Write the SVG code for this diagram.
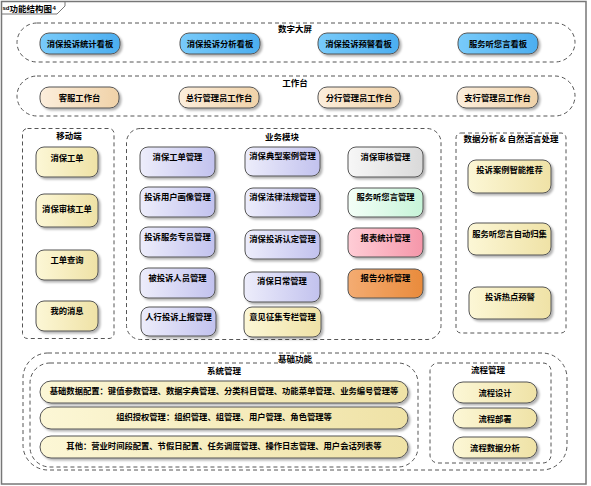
<svg xmlns="http://www.w3.org/2000/svg" width="591" height="486" viewBox="0 0 591 486">
<defs>
<linearGradient id="gBlue" x1="0" y1="0" x2="1" y2="0"><stop offset="0" stop-color="#78CBFA"/><stop offset="1" stop-color="#4CAEF0"/></linearGradient>
<linearGradient id="gPeach" x1="0" y1="0" x2="1" y2="0"><stop offset="0" stop-color="#FCEEDC"/><stop offset="1" stop-color="#F0D2A8"/></linearGradient>
<linearGradient id="gYellow" x1="0" y1="0" x2="1" y2="0"><stop offset="0" stop-color="#FCF7D6"/><stop offset="1" stop-color="#EFE2A6"/></linearGradient>
<linearGradient id="gLav" x1="0" y1="0" x2="1" y2="0"><stop offset="0" stop-color="#EDEDFB"/><stop offset="1" stop-color="#C2C2EE"/></linearGradient>
<linearGradient id="gGray" x1="0" y1="0" x2="1" y2="0"><stop offset="0" stop-color="#F7F7F7"/><stop offset="1" stop-color="#D9D9D9"/></linearGradient>
<linearGradient id="gMint" x1="0" y1="0" x2="1" y2="0"><stop offset="0" stop-color="#F4FFF8"/><stop offset="1" stop-color="#C6F4D8"/></linearGradient>
<linearGradient id="gPink" x1="0" y1="0" x2="1" y2="0"><stop offset="0" stop-color="#FFCDD6"/><stop offset="1" stop-color="#F597AA"/></linearGradient>
<linearGradient id="gOrange" x1="0" y1="0" x2="1" y2="0"><stop offset="0" stop-color="#F4AC72"/><stop offset="1" stop-color="#E98B3C"/></linearGradient>
<filter id="sh" x="-10%" y="-20%" width="130%" height="150%"><feDropShadow dx="2" dy="2" stdDeviation="1.2" flood-color="#000" flood-opacity="0.3"/></filter>
</defs>
<style>
text{font-family:"Noto Sans CJK SC","Noto Sans",sans-serif;font-weight:bold;font-size:8.3px;fill:#000;text-anchor:middle;dominant-baseline:central}
.node{stroke:#555;stroke-width:1;filter:url(#sh)}
.cont{fill:none;stroke:#555;stroke-width:1;stroke-dasharray:4 3}
.lbl{font-size:8.5px}
.blue{fill:url(#gBlue)}.peach{fill:url(#gPeach)}.yellow{fill:url(#gYellow)}.lav{fill:url(#gLav)}
.gray{fill:url(#gGray)}.mint{fill:url(#gMint)}.pink{fill:url(#gPink)}.orange{fill:url(#gOrange)}
.small{text-anchor:start;font-size:6px;font-family:"Liberation Sans",sans-serif}
</style>
<rect x="0" y="0" width="591" height="486" fill="#fff"/>
<g id="frame">
<rect x="1.5" y="1.5" width="584.5" height="482.5" fill="#fff" stroke="#777" stroke-width="1.5"/>
<path d="M1.5 14 L57 14 L65 6 L65 1.5" fill="none" stroke="#777" stroke-width="1"/>
<text class="small" x="2.5" y="8">sd</text>
<text x="9.5" y="7.5" style="text-anchor:start;font-size:8.5px">功能结构图</text>
<text class="small" x="52.5" y="8">4</text>
</g>

<g id="containers">
<rect id="c-screen" class="cont" x="17" y="23" width="558" height="39" rx="20" ry="20"/>
<text class="lbl" x="295" y="28">数字大屏</text>
<rect id="c-work" class="cont" x="17" y="76" width="558" height="40" rx="20" ry="20"/>
<text class="lbl" x="295" y="82">工作台</text>
<rect id="c-mobile" class="cont" x="22.5" y="128.5" width="91.5" height="210" rx="5"/>
<text class="lbl" x="69" y="135">移动端</text>
<rect id="c-biz" class="cont" x="126.5" y="128.5" width="314.5" height="211" rx="14"/>
<text class="lbl" x="282" y="136">业务模块</text>
<rect id="c-nlp" class="cont" x="456" y="133" width="110" height="200" rx="5"/>
<text class="lbl" x="511" y="138">数据分析 &amp; 自然语言处理</text>
<rect id="c-base" class="cont" x="23" y="353" width="544" height="117" rx="25"/>
<text class="lbl" x="295" y="357.5">基础功能</text>
<rect id="c-sys" class="cont" x="30" y="363" width="388" height="104" rx="20"/>
<text class="lbl" x="224" y="370">系统管理</text>
<rect id="c-flow" class="cont" x="430" y="363" width="121" height="100" rx="8"/>
<text class="lbl" x="488" y="369">流程管理</text>
</g>

<g id="n-s1"><rect class="node blue" x="40" y="33" width="80" height="21" rx="9"/><text x="80" y="43">消保投诉统计看板</text></g>
<g id="n-s2"><rect class="node blue" x="180" y="33" width="80" height="21" rx="9"/><text x="220" y="43">消保投诉分析看板</text></g>
<g id="n-s3"><rect class="node blue" x="318" y="33" width="81" height="21" rx="9"/><text x="358.5" y="43">消保投诉预警看板</text></g>
<g id="n-s4"><rect class="node blue" x="458" y="33" width="80" height="21" rx="9"/><text x="498" y="43">服务听您言看板</text></g>

<g id="n-w1"><rect class="node peach" x="40" y="87" width="79" height="21" rx="9"/><text x="79.5" y="97">客服工作台</text></g>
<g id="n-w2"><rect class="node peach" x="179" y="87" width="80" height="21" rx="9"/><text x="219" y="97">总行管理员工作台</text></g>
<g id="n-w3"><rect class="node peach" x="318" y="87" width="82" height="21" rx="9"/><text x="359" y="97">分行管理员工作台</text></g>
<g id="n-w4"><rect class="node peach" x="457" y="87" width="81" height="21" rx="9"/><text x="497.5" y="97">支行管理员工作台</text></g>

<g id="n-m1"><rect class="node yellow" x="36" y="147" width="62" height="30" rx="8"/><text x="67" y="157">消保工单</text></g>
<g id="n-m2"><rect class="node yellow" x="36" y="194" width="62" height="33" rx="8"/><text x="67" y="208">消保审核工单</text></g>
<g id="n-m3"><rect class="node yellow" x="36" y="250" width="62" height="30" rx="8"/><text x="67" y="259">工单查询</text></g>
<g id="n-m4"><rect class="node yellow" x="36" y="301" width="62" height="30" rx="8"/><text x="67" y="310">我的消息</text></g>

<g id="n-b11"><rect class="node lav" x="140" y="147" width="75" height="30" rx="8"/><text x="177.5" y="156">消保工单管理</text></g>
<g id="n-b12"><rect class="node lav" x="140" y="187" width="75" height="30" rx="8"/><text x="177.5" y="196">投诉用户画像管理</text></g>
<g id="n-b13"><rect class="node lav" x="140" y="227" width="75" height="30" rx="8"/><text x="177.5" y="236">投诉服务专员管理</text></g>
<g id="n-b14"><rect class="node lav" x="140" y="268" width="75" height="30" rx="8"/><text x="177.5" y="277">被投诉人员管理</text></g>
<g id="n-b15"><rect class="node lav" x="141" y="307" width="75" height="29" rx="8"/><text x="178.5" y="316">人行投诉上报管理</text></g>

<g id="n-b21"><rect class="node lav" x="245" y="147" width="75" height="29" rx="8"/><text x="282.5" y="155">消保典型案例管理</text></g>
<g id="n-b22"><rect class="node lav" x="245" y="188" width="75" height="29" rx="8"/><text x="282.5" y="196">消保法律法规管理</text></g>
<g id="n-b23"><rect class="node lav" x="245" y="230" width="75" height="29" rx="8"/><text x="282.5" y="238">消保投诉认定管理</text></g>
<g id="n-b24"><rect class="node lav" x="244" y="272" width="76" height="30" rx="8"/><text x="282" y="280">消保日常管理</text></g>
<g id="n-b25"><rect class="node yellow" x="244" y="307" width="77" height="30" rx="8"/><text x="282.5" y="316">意见征集专栏管理</text></g>

<g id="n-b31"><rect class="node gray" x="348" y="147" width="75" height="30" rx="8"/><text x="385.5" y="156">消保审核管理</text></g>
<g id="n-b32"><rect class="node mint" x="348" y="188" width="75" height="29" rx="8"/><text x="385.5" y="196">服务听您言管理</text></g>
<g id="n-b33"><rect class="node pink" x="348" y="228" width="75" height="29" rx="8"/><text x="385.5" y="237">报表统计管理</text></g>
<g id="n-b34"><rect class="node orange" x="348" y="269" width="75" height="29" rx="8"/><text x="385.5" y="277">报告分析管理</text></g>

<g id="n-a1"><rect class="node yellow" x="468" y="160" width="83" height="33" rx="8"/><text x="509.5" y="169">投诉案例智能推荐</text></g>
<g id="n-a2"><rect class="node yellow" x="468" y="223" width="83" height="32" rx="8"/><text x="509.5" y="233">服务听您言自动归集</text></g>
<g id="n-a3"><rect class="node yellow" x="469" y="287" width="82" height="32" rx="8"/><text x="510" y="296">投诉热点预警</text></g>

<g id="n-f1"><rect class="node yellow" x="40" y="381" width="368" height="22" rx="11"/><text x="224" y="389.5">基础数据配置：键值参数管理、数据字典管理、分类科目管理、功能菜单管理、业务编号管理等</text></g>
<g id="n-f2"><rect class="node yellow" x="40" y="407" width="368" height="22" rx="11"/><text x="224" y="415.5">组织授权管理：组织管理、组管理、用户管理、角色管理等</text></g>
<g id="n-f3"><rect class="node yellow" x="40" y="436" width="368" height="22" rx="11"/><text x="224" y="444.5">其他：营业时间段配置、节假日配置、任务调度管理、操作日志管理、用户会话列表等</text></g>

<g id="n-p1"><rect class="node yellow" x="453" y="382" width="84" height="21" rx="10"/><text x="495" y="392">流程设计</text></g>
<g id="n-p2"><rect class="node yellow" x="453" y="408" width="84" height="20" rx="10"/><text x="495" y="418">流程部署</text></g>
<g id="n-p3"><rect class="node yellow" x="453" y="437" width="84" height="21" rx="10"/><text x="495" y="447">流程数据分析</text></g>

<g id="connectors"></g>
</svg>
